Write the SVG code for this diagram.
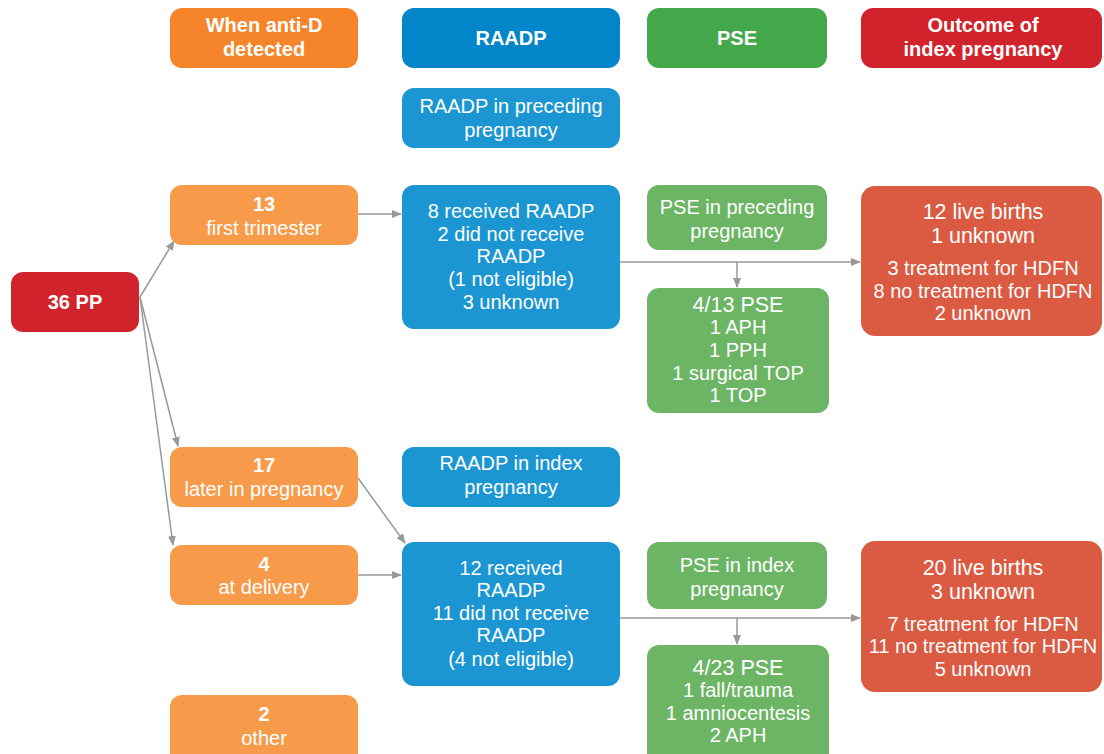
<svg xmlns="http://www.w3.org/2000/svg" width="1104" height="754" viewBox="0 0 1104 754">
<defs>
<marker id="ah" markerUnits="userSpaceOnUse" markerWidth="10" markerHeight="10" viewBox="0 0 10 10" refX="9" refY="5" orient="auto">
<path d="M0,1 L10,5 L0,9 Z" fill="#999999"/>
</marker>
</defs>
<style>
text{font-family:"Liberation Sans",Arial,Helvetica,sans-serif;fill:#ffffff;text-anchor:middle;font-size:20px}
.b{font-weight:bold}
.lg{font-size:21.5px}
.c{stroke:#999999;stroke-width:1.5;fill:none}
.hO{fill:#F5842A}.hB{fill:#0285C9}.hG{fill:#43A84A}.hR{fill:#D1232B}
.o{fill:#F79A4A}.bl{fill:#1B96D3}.g{fill:#6CB564}.r{fill:#DA5A42}
</style>
<rect width="1104" height="754" fill="#ffffff"/>
<g id="connectors">
<line class="c" x1="140" y1="297" x2="174" y2="241" marker-end="url(#ah)"/>
<line class="c" x1="140" y1="297" x2="178" y2="446" marker-end="url(#ah)"/>
<line class="c" x1="140" y1="297" x2="173" y2="545" marker-end="url(#ah)"/>
<line class="c" x1="358" y1="214" x2="401" y2="214" marker-end="url(#ah)"/>
<line class="c" x1="358" y1="478" x2="405" y2="543" marker-end="url(#ah)"/>
<line class="c" x1="358" y1="575" x2="401" y2="575" marker-end="url(#ah)"/>
<line class="c" x1="620" y1="262" x2="860" y2="262" marker-end="url(#ah)"/>
<line class="c" x1="737" y1="262" x2="737" y2="287" marker-end="url(#ah)"/>
<line class="c" x1="620" y1="618" x2="860" y2="618" marker-end="url(#ah)"/>
<line class="c" x1="737" y1="618" x2="737" y2="644" marker-end="url(#ah)"/>
</g>
<g id="h-when"><rect class="hO" x="170" y="8" width="188" height="60" rx="12"/><text class="b" x="264" y="32">When anti-D</text><text class="b" x="264" y="56">detected</text></g>
<g id="h-raadp"><rect class="hB" x="402" y="8" width="218" height="60" rx="12"/><text class="b" x="511" y="45">RAADP</text></g>
<g id="h-pse"><rect class="hG" x="647" y="8" width="180" height="60" rx="12"/><text class="b" x="737" y="45">PSE</text></g>
<g id="h-outcome"><rect class="hR" x="861" y="8" width="241" height="60" rx="12"/><text class="b" x="983" y="32">Outcome of</text><text class="b" x="983" y="56">index pregnancy</text></g>
<g id="raadp-preceding"><rect class="bl" x="402" y="88" width="218" height="60" rx="12"/><text x="511" y="113">RAADP in preceding</text><text x="511" y="137">pregnancy</text></g>
<g id="pp36"><rect class="hR" x="11" y="272" width="128" height="60" rx="12"/><text class="b" x="75" y="309">36 PP</text></g>
<g id="first"><rect class="o" x="170" y="185" width="188" height="60" rx="12"/><text class="b" x="264" y="211">13</text><text x="264" y="235">first trimester</text></g>
<g id="raadp1"><rect class="bl" x="402" y="185" width="218" height="144" rx="12"/><text x="511" y="218">8 received RAADP</text><text x="511" y="241">2 did not receive</text><text x="511" y="263">RAADP</text><text x="511" y="286">(1 not eligible)</text><text x="511" y="309">3 unknown</text></g>
<g id="pse-preceding"><rect class="g" x="647" y="185" width="180" height="65" rx="12"/><text x="737" y="214">PSE in preceding</text><text x="737" y="238">pregnancy</text></g>
<g id="pse1"><rect class="g" x="647" y="288" width="182" height="125" rx="12"/><text class="lg" x="738" y="312">4/13 PSE</text><text x="738" y="334">1 APH</text><text x="738" y="357">1 PPH</text><text x="738" y="380">1 surgical TOP</text><text x="738" y="402">1 TOP</text></g>
<g id="outcome1"><rect class="r" x="861" y="186" width="241" height="150" rx="14"/><text class="lg" x="983" y="219">12 live births</text><text class="lg" x="983" y="243">1 unknown</text><text x="983" y="275">3 treatment for HDFN</text><text x="983" y="298">8 no treatment for HDFN</text><text x="983" y="320">2 unknown</text></g>
<g id="later"><rect class="o" x="170" y="447" width="188" height="60" rx="12"/><text class="b" x="264" y="472">17</text><text x="264" y="496">later in pregnancy</text></g>
<g id="raadp-index"><rect class="bl" x="402" y="447" width="218" height="60" rx="12"/><text x="511" y="470">RAADP in index</text><text x="511" y="494">pregnancy</text></g>
<g id="delivery"><rect class="o" x="170" y="545" width="188" height="60" rx="12"/><text class="b" x="264" y="571">4</text><text x="264" y="594">at delivery</text></g>
<g id="raadp2"><rect class="bl" x="402" y="542" width="218" height="144" rx="12"/><text x="511" y="575">12 received</text><text x="511" y="597">RAADP</text><text x="511" y="620">11 did not receive</text><text x="511" y="642">RAADP</text><text x="511" y="666">(4 not eligible)</text></g>
<g id="pse-index"><rect class="g" x="647" y="542" width="180" height="67" rx="12"/><text x="737" y="572">PSE in index</text><text x="737" y="596">pregnancy</text></g>
<g id="pse2"><rect class="g" x="647" y="645" width="182" height="120" rx="12"/><text class="lg" x="738" y="675">4/23 PSE</text><text x="738" y="697">1 fall/trauma</text><text x="738" y="720">1 amniocentesis</text><text x="738" y="742">2 APH</text></g>
<g id="outcome2"><rect class="r" x="861" y="541" width="241" height="151" rx="14"/><text class="lg" x="983" y="575">20 live births</text><text class="lg" x="983" y="599">3 unknown</text><text x="983" y="631">7 treatment for HDFN</text><text x="983" y="653">11 no treatment for HDFN</text><text x="983" y="676">5 unknown</text></g>
<g id="other"><rect class="o" x="170" y="695" width="188" height="70" rx="12"/><text class="b" x="264" y="721">2</text><text x="264" y="745">other</text></g>
</svg>
